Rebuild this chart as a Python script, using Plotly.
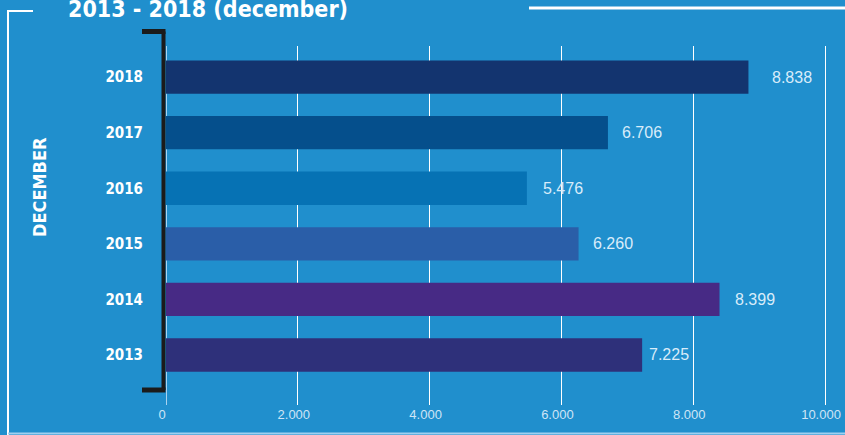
import plotly.graph_objects as go

years = ["2013", "2014", "2015", "2016", "2017", "2018"]
values = [7225, 8399, 6260, 5476, 6706, 8838]
value_labels = ["7.225", "8.399", "6.260", "5.476", "6.706", "8.838"]
bar_colors = ["#2e307a", "#472a85", "#2a5ea8", "#0672b4", "#054f8c", "#13346f"]
x_ticks = [0, 2000, 4000, 6000, 8000, 10000]
x_tick_labels = ["0", "2.000", "4.000", "6.000", "8.000", "10.000"]
title_text = "2013 - 2018 (december)"
axis_title = "DECEMBER"

# style: pixel gap between each bar end and its value label
label_gaps = [5, 13, 12, 14, 12, 22]

W, H = 845, 435
L, R, T, B = 166, 18, 46, 30
PW, PH = W - L - R, H - T - B

def px(x):
    return (x - L) / PW

def py(y):
    return (H - B - y) / PH

BG = "#208fcd"
COND = "DejaVu Sans Condensed, Liberation Sans Narrow, sans-serif"
THIN = "Liberation Sans, Arial, sans-serif"

fig = go.Figure()
fig.add_trace(go.Bar(
    y=years, x=values, orientation="h",
    marker=dict(color=bar_colors, line=dict(width=0)),
    width=0.6, hoverinfo="skip",
))

annotations = []
for i, (v, lab, g) in enumerate(zip(values, value_labels, label_gaps)):
    annotations.append(dict(
        x=v, y=i, xref="x", yref="y", text=lab, showarrow=False,
        xanchor="left", yanchor="middle", xshift=g,
        font=dict(family=THIN, size=16, color="#d8ecfa"),
    ))

annotations.append(dict(
    x=px(66), y=py(9.5), xref="paper", yref="paper", text="<b>" + title_text + "</b>",
    showarrow=False, xanchor="left", yanchor="middle",
    font=dict(family=COND, size=23, color="white"),
))
annotations.append(dict(
    x=px(40), y=py(187), xref="paper", yref="paper", text="<b>" + axis_title + "</b>",
    showarrow=False, xanchor="center", yanchor="middle", textangle=-90,
    font=dict(family=COND, size=18, color="white"),
))

shapes = []
def line(x0, y0, x1, y1, color, width):
    shapes.append(dict(type="line", xref="paper", yref="paper",
                       x0=px(x0), y0=py(y0), x1=px(x1), y1=py(y1),
                       line=dict(color=color, width=width)))

# frame
line(8, 11, 8, 440, "white", 2)
line(7, 11, 33, 11, "white", 2)
line(529, 8, 850, 8, "white", 3)
line(8, 433.5, 850, 433.5, "#9fd0f0", 2)
# bracket
line(163.5, 31.5, 163.5, 390, "#1b1b1b", 4)
line(142, 31.5, 165.5, 31.5, "#1b1b1b", 5)
line(142, 390, 165.5, 390, "#1b1b1b", 5)

fig.update_layout(
    width=W, height=H,
    margin=dict(l=L, r=R, t=T, b=B, pad=0, autoexpand=False),
    paper_bgcolor=BG, plot_bgcolor=BG,
    showlegend=False,
    xaxis=dict(
        range=[0, 10030], tickvals=x_ticks, ticktext=x_tick_labels,
        showgrid=True, gridcolor="white", gridwidth=1,
        zeroline=True, zerolinecolor="#a9d3f0", zerolinewidth=1,
        showline=False, ticks="", automargin=False,
        ticklabeloverflow="allow", ticklabelshift=-4,
        tickfont=dict(family=THIN, size=13, color="#cfe5f6"),
        fixedrange=True,
    ),
    yaxis=dict(
        type="category", categoryorder="array", categoryarray=years,
        range=[-0.9, 5.56],
        showgrid=False, zeroline=False, showline=False, ticks="",
        ticklabelstandoff=22, automargin=False,
        tickfont=dict(family=COND, size=15, color="white", weight="bold"),
        fixedrange=True,
    ),
    annotations=annotations,
    shapes=shapes,
)

fig.write_html(
    "out.html",
    config={"displayModeBar": False},
    post_script="document.body.style.margin='0';document.body.style.overflow='hidden';",
)
